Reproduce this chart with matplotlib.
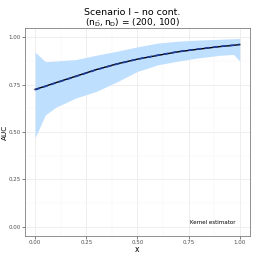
import matplotlib
matplotlib.use("Agg")
import matplotlib.pyplot as plt
import numpy as np

# values
x = [0.0, 0.05, 0.1, 0.2, 0.3, 0.4, 0.5, 0.6, 0.7, 0.8, 0.9, 0.97, 1.0]
auc_true = [0.725, 0.742, 0.760, 0.795, 0.830, 0.860, 0.885, 0.905, 0.924, 0.938, 0.951, 0.958, 0.962]
auc_est = [0.723, 0.741, 0.759, 0.794, 0.829, 0.859, 0.885, 0.906, 0.925, 0.939, 0.952, 0.959, 0.963]
lower = [0.47, 0.59, 0.63, 0.68, 0.715, 0.765, 0.82, 0.855, 0.875, 0.892, 0.905, 0.91, 0.875]
upper = [0.922, 0.872, 0.875, 0.883, 0.906, 0.927, 0.95, 0.97, 0.98, 0.986, 0.99, 0.993, 0.995]

ticks = [0.0, 0.25, 0.5, 0.75, 1.0]
tick_labels = ["0.00", "0.25", "0.50", "0.75", "1.00"]

fig = plt.figure(figsize=(2.54, 2.54), dpi=100)
ax = fig.add_axes([0.098, 0.071, 0.886, 0.819])

ax.fill_between(x, lower, upper, color="#bfdfff", lw=0, zorder=2)
ax.plot(x, auc_true, color="black", lw=1.0, zorder=3)
ax.plot(x, auc_est, color="#1f3fa0", lw=1.2, ls=(0, (3, 2)), zorder=4)

ax.set_xlim(-0.05, 1.05)
ax.set_ylim(-0.05, 1.05)
ax.set_xticks(ticks)
ax.set_xticklabels(tick_labels)
ax.set_yticks(ticks)
ax.set_yticklabels(tick_labels)
ax.set_xticks([0.125, 0.375, 0.625, 0.875], minor=True)
ax.set_yticks([0.125, 0.375, 0.625, 0.875], minor=True)
ax.grid(which="major", color="#ebebeb", lw=0.6, zorder=0)
ax.grid(which="minor", color="#f3f3f3", lw=0.3, zorder=0)
ax.set_axisbelow(True)
ax.tick_params(which="major", length=2, width=0.5, color="#4d4d4d",
               labelsize=4, labelcolor="#4d4d4d", pad=1.2)
ax.tick_params(which="minor", length=0)
for s in ax.spines.values():
    s.set_color("#7f7f7f")
    s.set_linewidth(0.6)

ax.set_xlabel("x", fontsize=5.5, labelpad=0)
ax.set_ylabel("AUC", fontsize=5.2)
ax.yaxis.set_label_coords(-0.076, 0.5)
ax.text(0.87, 0.02, "Kernel estimator", fontsize=4, ha="center", va="center", zorder=5)

fig.text(0.52, 0.94, "Scenario I \u2013 no cont.", ha="center", va="baseline", fontsize=6.8)
fig.text(0.52, 0.9, r"$(\mathrm{n}_{\bar{\mathrm{D}}}, \mathrm{n}_{\mathrm{D}})$ = (200, 100)",
         ha="center", va="baseline", fontsize=6.5)

fig.savefig("out.png", dpi=100)
